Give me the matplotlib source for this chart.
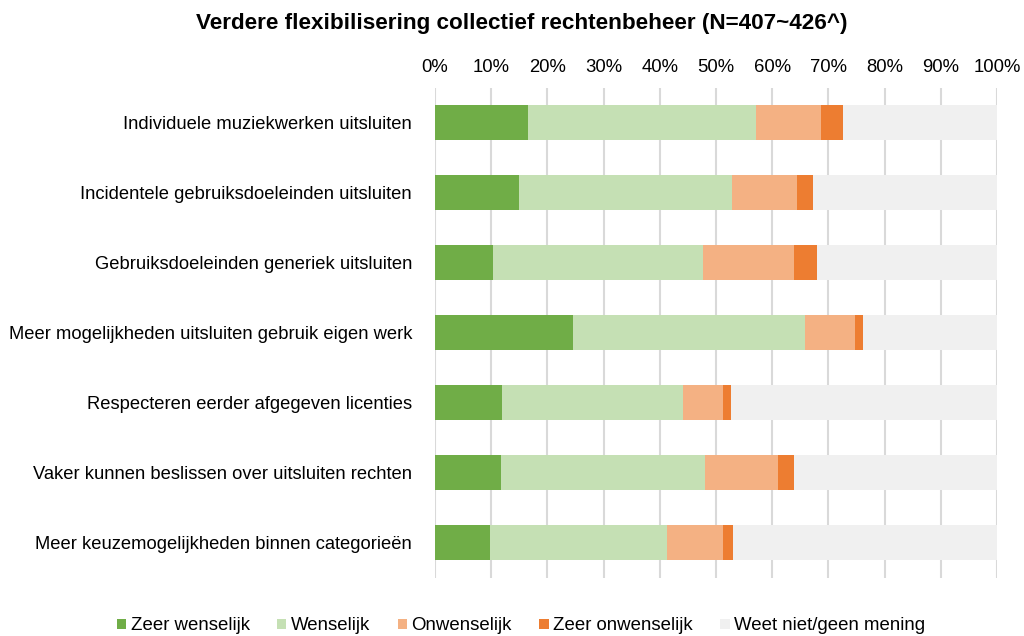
import matplotlib
matplotlib.use("Agg")
import matplotlib.pyplot as plt
import numpy as np

categories = [
    "Individuele muziekwerken uitsluiten",
    "Incidentele gebruiksdoeleinden uitsluiten",
    "Gebruiksdoeleinden generiek uitsluiten",
    "Meer mogelijkheden uitsluiten gebruik eigen werk",
    "Respecteren eerder afgegeven licenties",
    "Vaker kunnen beslissen over uitsluiten rechten",
    "Meer keuzemogelijkheden binnen categorieën",
]
series_names = ["Zeer wenselijk", "Wenselijk", "Onwenselijk", "Zeer onwenselijk", "Weet niet/geen mening"]
zeer_wenselijk = [16.5, 14.9, 10.3, 24.6, 11.9, 11.8, 9.8]
wenselijk = [40.7, 37.9, 37.3, 41.2, 32.2, 36.3, 31.4]
onwenselijk = [11.5, 11.6, 16.3, 9.0, 7.1, 12.9, 10.0]
zeer_onwenselijk = [3.9, 2.9, 4.1, 1.4, 1.4, 2.9, 1.8]
weet_niet = [100 - a - b - c - d for a, b, c, d in zip(zeer_wenselijk, wenselijk, onwenselijk, zeer_onwenselijk)]
colors = ["#70ad47", "#c5e0b4", "#f4b183", "#ed7d31", "#f0f0f0"]
xticks = [0, 10, 20, 30, 40, 50, 60, 70, 80, 90, 100]
title = "Verdere flexibilisering collectief rechtenbeheer (N=407~426^)"

plt.rcParams['font.family'] = ['Liberation Sans', 'DejaVu Sans']

fig = plt.figure(figsize=(10.24, 6.36), dpi=100)
ax = fig.add_axes([435/1024, 1 - 577.5/636, (997-435)/1024, (577.5-87.5)/636])

y = np.arange(len(categories))
left = np.zeros(len(categories))
for name, vals, c in zip(series_names, [zeer_wenselijk, wenselijk, onwenselijk, zeer_onwenselijk, weet_niet], colors):
    vals = np.array(vals)
    ax.barh(y, vals, left=left, height=0.5, color=c, label=name, zorder=3)
    left += vals

ax.set_ylim(len(categories) - 0.5, -0.5)
ax.set_xlim(0, 100)
ax.set_yticks(y)
ax.set_yticklabels(categories, fontsize=13.2)
ax.set_xticks(xticks)
ax.set_xticklabels([f"{t}%" for t in xticks], fontsize=13.3)
ax.xaxis.tick_top()
ax.tick_params(axis='both', length=0, colors='#000000')
ax.tick_params(axis='y', pad=16.5)
ax.tick_params(axis='x', pad=8)
ax.grid(axis='x', color='#d9d9d9', linewidth=1.5, zorder=0)
for s in ax.spines.values():
    s.set_visible(False)

fig.text(521.5/1024, 1 - 23/636, title, ha='center', va='center', fontsize=16.2, fontweight='bold')

handles, labels = ax.get_legend_handles_labels()
fig.legend(handles, labels, loc='center', bbox_to_anchor=(521/1024, 1 - 626/636), ncol=5,
           frameon=False, fontsize=13.4, handlelength=0.5, handleheight=0.5, handletextpad=0.25,
           columnspacing=1.47, borderaxespad=0, borderpad=0)

fig.savefig("out.png", dpi=100)
